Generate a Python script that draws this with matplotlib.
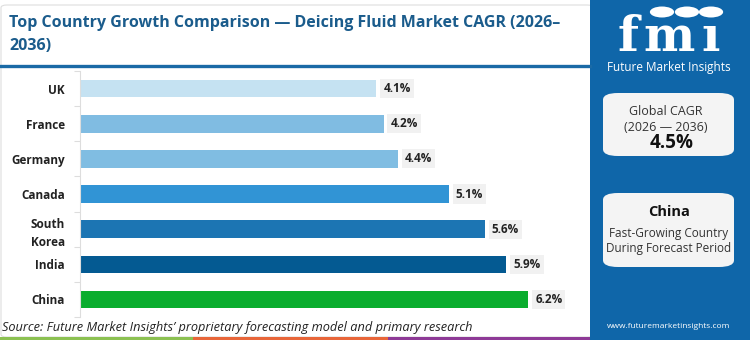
"""
Top country growth comparison for the deicing fluid market, CAGR 2026-2036.
Horizontal bars on the left, branded summary panel on the right.
"""

import matplotlib
matplotlib.use("Agg")
import matplotlib.pyplot as plt
from matplotlib.patches import FancyBboxPatch, Rectangle, Circle
from matplotlib.lines import Line2D

# ---------------------------------------------------------------------------
# Data
# ---------------------------------------------------------------------------
countries = ["UK", "France", "Germany", "Canada", "South\nKorea", "India", "China"]
cagr = [4.1, 4.2, 4.4, 5.1, 5.6, 5.9, 6.2]
bar_colors = ["#c5e2f2", "#80bce2", "#80bde2", "#3194d5", "#1c75b3", "#045a92", "#0aad2e"]

title = "Top Country Growth Comparison \u2014 Deicing Fluid Market CAGR (2026\u2013\n2036)"
source = "Source: Future Market Insights\u2019 proprietary forecasting model and primary research"
global_cagr = 4.5
top_country = "China"

# ---------------------------------------------------------------------------
# Style
# ---------------------------------------------------------------------------
W, H = 750, 340
PANEL_BLUE = "#0f66a9"
TITLE_BLUE = "#1b5c8c"
FONT = ["Open Sans", "DejaVu Sans"]
plt.rcParams["font.family"] = FONT

fig = plt.figure(figsize=(W / 100, H / 100), dpi=100)
fig.patch.set_facecolor("white")


def fx(px):
    return px / W


def fy(py):
    return 1 - py / H


# white card with a faint border for the chart side (kept behind the axes)
fig.add_artist(FancyBboxPatch((fx(1), fy(337)), fx(592), 332 / H,
                              boxstyle="round,pad=0,rounding_size=0.008",
                              transform=fig.transFigure, facecolor="white",
                              edgecolor="#dedede", linewidth=0.8, zorder=-2))

# right-hand brand panel
fig.add_artist(Rectangle((fx(590), 0), fx(160), 1, transform=fig.transFigure,
                         facecolor=PANEL_BLUE, edgecolor="none", zorder=-1))

# title + rule underneath
fig.text(fx(9), fy(15), title, fontsize=11.5, fontweight="bold", color=TITLE_BLUE,
         ha="left", va="top", linespacing=1.55)
fig.add_artist(Line2D([fx(1), fx(590)], [fy(65.5), fy(65.5)], transform=fig.transFigure,
                      color="#1a6aa6", linewidth=2.4))

# ---------------------------------------------------------------------------
# Bars
# ---------------------------------------------------------------------------
ax = fig.add_axes([fx(80), fy(317), fx(493), 246 / H])
ax.patch.set_alpha(0)
y = list(range(len(countries)))
ax.barh(y, cagr, height=0.5, color=bar_colors)
ax.set_ylim(len(countries) - 0.5, -0.5)
ax.set_xlim(0, max(cagr) * 1.1)

for yi, v in zip(y, cagr):
    ax.annotate(f"{v}%", (v, yi), xytext=(5, 0), textcoords="offset points",
                ha="left", va="center", fontsize=8.5, fontweight="bold", color="#222222",
                bbox=dict(facecolor="#f1f1f1", edgecolor="none", pad=2.2))

ax.set_yticks(y)
ax.set_yticklabels(countries, fontsize=8.5, fontweight="bold", color="#222222",
                   linespacing=1.5)
ax.set_yticks([i - 0.5 for i in range(len(countries) + 1)], minor=True)
ax.tick_params(axis="y", which="major", length=0, pad=11)
ax.tick_params(axis="y", which="minor", length=4, color="#dddddd", width=0.8)
ax.set_xticks([])
for side in ("top", "right", "bottom"):
    ax.spines[side].set_visible(False)
ax.spines["left"].set_color("#dddddd")
ax.spines["left"].set_linewidth(0.8)

fig.text(fx(2), fy(328), source, fontsize=9.2, style="italic", color="#222222",
         ha="left", va="center")

# coloured strip along the bottom edge
for x0, x1, c in [(0, 193, "#8cc152"), (193, 388, "#e8663a"), (388, 590, "#8e3a97")]:
    fig.add_artist(Rectangle((fx(x0), 0), fx(x1 - x0), 3.5 / H, transform=fig.transFigure,
                             facecolor=c, edgecolor="none"))

# ---------------------------------------------------------------------------
# Brand panel contents
# ---------------------------------------------------------------------------
# logo letters spaced out, then striped with thin panel-coloured lines
for letter, cx in [("f", 628), ("m", 669), ("\u0131", 711)]:
    fig.text(fx(cx), fy(51), letter, fontsize=35, fontweight="bold", color="white",
             ha="center", va="baseline", family=["DejaVu Serif"])
for py in range(19, 52, 3):
    fig.add_artist(Line2D([fx(608), fx(726)], [fy(py), fy(py)], transform=fig.transFigure,
                          color=PANEL_BLUE, linewidth=0.7))
for cx in (662, 687, 711):
    fig.add_artist(Circle((fx(cx), fy(12)), 5.5 / H, transform=fig.transFigure,
                          facecolor="white", edgecolor="none"))
fig.text(fx(669), fy(68), "Future Market Insights", fontsize=8.5, color="white",
         ha="center", va="center")

for top, bot in [(93, 156), (193, 267)]:
    fig.add_artist(FancyBboxPatch((fx(603), fy(bot)), fx(131), (bot - top) / H,
                                  boxstyle="round,pad=0,rounding_size=0.02",
                                  transform=fig.transFigure, facecolor="#f4f4f4",
                                  edgecolor="none"))

fig.text(fx(666), fy(112), "Global CAGR", fontsize=9, color="#333333", ha="center", va="center")
fig.text(fx(666), fy(127.5), "(2026 \u2014 2036)", fontsize=9, color="#333333",
         ha="center", va="center")
fig.text(fx(672), fy(143), f"{global_cagr}%", fontsize=13.5, fontweight="bold",
         color="#111111", ha="center", va="center")

fig.text(fx(669), fy(212), top_country, fontsize=10.5, fontweight="bold", color="#111111",
         ha="center", va="center")
fig.text(fx(669), fy(233), "Fast-Growing Country", fontsize=8.5, color="#333333",
         ha="center", va="center")
fig.text(fx(669), fy(248.5), "During Forecast Period", fontsize=8.5, color="#333333",
         ha="center", va="center")

fig.text(fx(669), fy(327), "www.futuremarketinsights.com", fontsize=6, color="white",
         ha="center", va="center")

fig.savefig("out.png", dpi=100)
